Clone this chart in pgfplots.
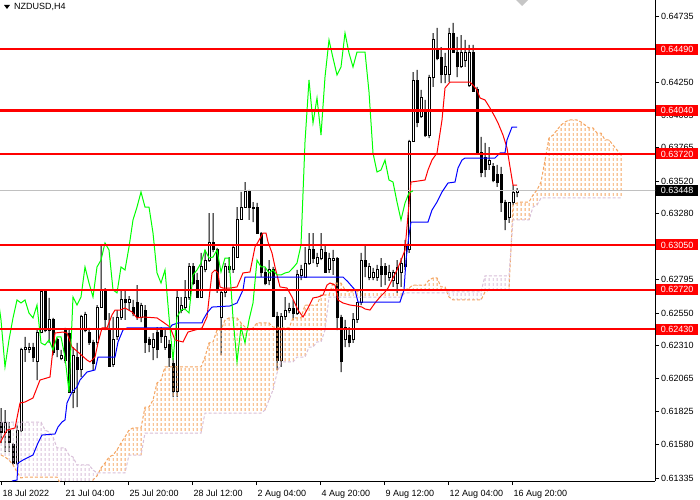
\documentclass[border=0pt]{standalone}
\usepackage{pgfplots}
\pgfplotsset{compat=1.18}
\usepackage{pgfplotstable}
\usetikzlibrary{patterns.meta}
\usepackage{fontspec}
\setmainfont{Liberation Sans}
\definecolor{sandy}{RGB}{244,164,96}
\definecolor{thist}{RGB}{216,191,216}
\definecolor{mtgreen}{RGB}{0,255,0}
\definecolor{bidgray}{RGB}{192,192,192}

\pgfplotstableread{
x O H L C
0 0.61747 0.61850 0.61593 0.61673
1 0.61673 0.61835 0.61526 0.61740
2 0.61688 0.61747 0.61526 0.61593
3 0.61578 0.61593 0.61431 0.61445
4 0.61445 0.61725 0.61431 0.61688
5 0.61688 0.62292 0.61673 0.62277
6 0.62277 0.62373 0.62189 0.62292
7 0.62277 0.62329 0.62255 0.62299
8 0.62299 0.62329 0.62189 0.62225
9 0.62189 0.62424 0.62056 0.62409
10 0.62409 0.62711 0.62402 0.62704
11 0.62704 0.62719 0.62409 0.62424
12 0.62424 0.62660 0.62329 0.62498
13 0.62498 0.62513 0.62240 0.62255
14 0.62351 0.62365 0.62225 0.62277
15 0.62218 0.62277 0.62203 0.62233
16 0.62424 0.62439 0.62181 0.62203
17 0.62402 0.62424 0.61961 0.61961
18 0.61961 0.62299 0.61850 0.62240
19 0.62225 0.62329 0.61857 0.62130
20 0.62130 0.62535 0.62078 0.62520
21 0.62424 0.62557 0.62409 0.62535
22 0.62409 0.62439 0.62314 0.62329
23 0.62329 0.62351 0.62130 0.62181
24 0.62329 0.62608 0.62314 0.62593
25 0.62593 0.63050 0.62593 0.62719
26 0.62719 0.62733 0.62424 0.62498
27 0.62424 0.62549 0.62152 0.62152
28 0.62167 0.62520 0.62152 0.62351
29 0.62373 0.62571 0.62351 0.62513
30 0.62513 0.62719 0.62498 0.62645
31 0.62645 0.62719 0.62498 0.62623
32 0.62630 0.62674 0.62571 0.62645
33 0.62593 0.62645 0.62527 0.62549
34 0.62623 0.62755 0.62498 0.62513
35 0.62513 0.62623 0.62483 0.62608
36 0.62571 0.62608 0.62255 0.62329
37 0.62351 0.62373 0.62262 0.62314
38 0.62292 0.62402 0.62203 0.62351
39 0.62409 0.62446 0.62218 0.62277
40 0.62424 0.62446 0.62329 0.62373
41 0.62299 0.62424 0.62277 0.62373
42 0.62314 0.62351 0.62152 0.62225
43 0.62181 0.62218 0.61931 0.61968
44 0.61968 0.62719 0.61931 0.62667
45 0.62571 0.62667 0.62549 0.62608
46 0.62593 0.62792 0.62571 0.62667
47 0.62667 0.62917 0.62645 0.62888
48 0.62888 0.62917 0.62755 0.62770
49 0.62792 0.62844 0.62660 0.62667
50 0.62667 0.62991 0.62660 0.62888
51 0.62866 0.63013 0.62851 0.62939
52 0.62939 0.63285 0.62925 0.63065
53 0.63065 0.63285 0.62998 0.63013
54 0.63013 0.63028 0.62697 0.62719
55 0.62513 0.62719 0.62240 0.62697
56 0.62697 0.62917 0.62667 0.62888
57 0.62888 0.62961 0.62844 0.62866
58 0.62866 0.63050 0.62844 0.63035
59 0.62961 0.63329 0.62961 0.63234
60 0.63234 0.63440 0.63234 0.63329
61 0.63329 0.63513 0.63329 0.63440
62 0.63440 0.63455 0.63234 0.63329
63 0.63322 0.63366 0.63219 0.63329
64 0.63329 0.63359 0.63138 0.63138
65 0.63138 0.63145 0.62814 0.62844
66 0.62844 0.62881 0.62755 0.62770
67 0.62785 0.62939 0.62755 0.62866
68 0.62866 0.62888 0.62520 0.62520
69 0.62520 0.62557 0.62130 0.62203
70 0.62203 0.62549 0.62152 0.62520
71 0.62520 0.62667 0.62498 0.62571
72 0.62571 0.62623 0.62549 0.62579
73 0.62579 0.62645 0.62498 0.62549
74 0.62549 0.62866 0.62535 0.62829
75 0.62822 0.62903 0.62792 0.62866
76 0.62814 0.63035 0.62814 0.62917
77 0.62917 0.63138 0.62903 0.63013
78 0.63013 0.63138 0.62917 0.62954
79 0.62917 0.62991 0.62888 0.62961
80 0.62954 0.63138 0.62939 0.63013
81 0.62998 0.63050 0.62844 0.62851
82 0.62866 0.62991 0.62844 0.62954
83 0.62939 0.63013 0.62829 0.62954
84 0.62954 0.62961 0.62424 0.62513
85 0.62513 0.62535 0.62115 0.62189
86 0.62351 0.62498 0.62299 0.62446
87 0.62387 0.62446 0.62299 0.62329
88 0.62351 0.62549 0.62329 0.62498
89 0.62498 0.62623 0.62476 0.62623
90 0.62623 0.62991 0.62608 0.62939
91 0.62939 0.63050 0.62814 0.62888
92 0.62814 0.62917 0.62792 0.62888
93 0.62814 0.62881 0.62792 0.62844
94 0.62807 0.62903 0.62785 0.62866
95 0.62888 0.62954 0.62741 0.62829
96 0.62888 0.62917 0.62755 0.62829
97 0.62807 0.62903 0.62785 0.62844
98 0.62792 0.62866 0.62741 0.62851
99 0.62770 0.62939 0.62697 0.62881
100 0.62844 0.62954 0.62741 0.62917
101 0.62888 0.63087 0.62866 0.63050
102 0.63013 0.63823 0.62991 0.63808
103 0.63808 0.64323 0.63808 0.64264
104 0.64264 0.64338 0.63918 0.63948
105 0.63992 0.64191 0.63985 0.64132
106 0.64043 0.64117 0.63845 0.63859
107 0.63859 0.64301 0.63837 0.64286
108 0.64279 0.64610 0.64213 0.64559
109 0.64485 0.64647 0.64411 0.64426
110 0.64433 0.64507 0.64242 0.64301
111 0.64301 0.64463 0.64242 0.64360
112 0.64301 0.64647 0.64249 0.64610
113 0.64610 0.64684 0.64463 0.64463
114 0.64463 0.64581 0.64286 0.64360
115 0.64360 0.64595 0.64353 0.64470
116 0.64411 0.64559 0.64360 0.64470
117 0.64227 0.64522 0.64213 0.64470
118 0.64470 0.64522 0.64176 0.64176
119 0.64191 0.64213 0.63727 0.63727
120 0.63727 0.63845 0.63550 0.63587
121 0.63697 0.63801 0.63550 0.63602
122 0.63639 0.63771 0.63602 0.63675
123 0.63624 0.63653 0.63513 0.63528
124 0.63565 0.63639 0.63477 0.63513
125 0.63565 0.63624 0.63293 0.63366
126 0.63366 0.63381 0.63160 0.63234
127 0.63249 0.63366 0.63212 0.63359
128 0.63359 0.63491 0.63344 0.63433
129 0.63433 0.63469 0.63403 0.63448
}\candles

\pgfplotstableread{
x y
-0.25 0.61593
1.5 0.61688
3.5 0.61703
4.75 0.61887
6 0.61894
8 0.61924
9.75 0.62056
12.25 0.62078
12.75 0.62218
13.5 0.62402
15.5 0.62409
16.5 0.62402
17.75 0.62299
19.25 0.62262
21.5 0.62203
22.25 0.62189
23.5 0.62225
24.25 0.62329
25.25 0.62439
26.5 0.62439
27.75 0.62535
28.5 0.62571
29.75 0.62571
31 0.62586
32.75 0.62557
34 0.62513
35.5 0.62520
39 0.62513
40.5 0.62483
42.25 0.62446
43.5 0.62351
45.5 0.62336
46.75 0.62409
48.5 0.62424
50.25 0.62439
51.5 0.62520
52.25 0.62719
52.75 0.62844
53.5 0.62866
54.25 0.62844
54.75 0.62741
55.5 0.62733
57.25 0.62733
59 0.62741
60.5 0.62844
62.25 0.62851
63.5 0.63035
64.25 0.63072
65.5 0.63138
66.25 0.63138
66.75 0.63072
67.75 0.62991
68.5 0.62888
69.75 0.62741
71.5 0.62733
72.75 0.62667
74.25 0.62571
75.5 0.62520
76.75 0.62586
78 0.62660
79.25 0.62667
80.5 0.62682
81.5 0.62755
82.25 0.62770
83.5 0.62755
84.25 0.62645
85.5 0.62623
87.25 0.62608
89 0.62601
90.25 0.62593
91 0.62579
92.25 0.62571
93.5 0.62623
94.75 0.62667
96 0.62704
96.75 0.62733
98 0.62807
99 0.62866
99.75 0.62917
101 0.63013
101.75 0.63271
102.5 0.63513
106 0.63528
106.75 0.63602
107.75 0.63675
109 0.63727
110.25 0.63970
111 0.64205
112.25 0.64249
117.25 0.64249
118 0.64227
119 0.64191
119.75 0.64132
121 0.64117
122.25 0.64058
123.5 0.63992
124.25 0.63948
125.5 0.63859
126.5 0.63764
127.25 0.63624
128 0.63491
129 0.63491
}\tenkan

\pgfplotstableread{
x y
2.75 0.61313
4 0.61320
4.25 0.61445
5.5 0.61467
8 0.61504
9.25 0.61593
10.25 0.61651
13.5 0.61659
14.25 0.61710
15.25 0.61747
16 0.61762
16.5 0.61887
17.75 0.61968
19 0.62005
19.75 0.62056
21.5 0.62115
23.5 0.62130
24.25 0.62225
28.5 0.62225
29.25 0.62336
30.5 0.62424
31.5 0.62439
42.25 0.62439
42.75 0.62461
44.25 0.62476
50.25 0.62476
50.5 0.62498
51.5 0.62549
52.75 0.62593
57.25 0.62601
59 0.62623
60.5 0.62719
61 0.62814
85.5 0.62814
86.75 0.62778
88.5 0.62719
89.25 0.62630
99.75 0.62630
100.75 0.62719
101.25 0.62939
102 0.63123
102.5 0.63219
106.75 0.63219
107.75 0.63307
109 0.63366
110.25 0.63440
111.75 0.63506
113.5 0.63513
114.25 0.63617
115.25 0.63675
116 0.63690
123.5 0.63690
124.75 0.63727
126 0.63727
126.5 0.63823
127.75 0.63918
129 0.63918
}\kijun

\pgfplotstableread{
x A B
0 0.61504 0.61747
1 0.61489 0.61747
2 0.61467 0.61747
3 0.61431 0.61747
4 0.61379 0.61747
5 0.61335 0.61747
6 0.61342 0.61747
7 0.61342 0.61747
8 0.61342 0.61747
9 0.61342 0.61747
10 0.61342 0.61747
11 0.61342 0.61688
12 0.61342 0.61673
13 0.61342 0.61637
14 0.61342 0.61556
15 0.61283 0.61556
16 0.61283 0.61556
17 0.61283 0.61504
18 0.61283 0.61489
19 0.61283 0.61431
20 0.61283 0.61431
21 0.61283 0.61431
22 0.61283 0.61431
23 0.61320 0.61394
24 0.61350 0.61372
25 0.61409 0.61372
26 0.61445 0.61372
27 0.61489 0.61372
28 0.61504 0.61372
29 0.61541 0.61372
30 0.61593 0.61372
31 0.61637 0.61372
32 0.61688 0.61504
33 0.61703 0.61504
34 0.61703 0.61504
35 0.61703 0.61504
36 0.61857 0.61666
37 0.61857 0.61666
38 0.61909 0.61666
39 0.62034 0.61666
40 0.62056 0.61666
41 0.62152 0.61666
42 0.62152 0.61666
43 0.62152 0.61666
44 0.62152 0.61666
45 0.62152 0.61666
46 0.62152 0.61666
47 0.62152 0.61666
48 0.62152 0.61666
49 0.62152 0.61666
50 0.62152 0.61666
51 0.62225 0.61813
52 0.62329 0.61813
53 0.62336 0.61813
54 0.62424 0.61813
55 0.62424 0.61813
56 0.62498 0.61813
57 0.62513 0.61813
58 0.62513 0.61813
59 0.62513 0.61813
60 0.62476 0.61813
61 0.62446 0.61813
62 0.62424 0.61813
63 0.62439 0.61813
64 0.62476 0.61813
65 0.62476 0.61813
66 0.62476 0.61835
67 0.62476 0.61909
68 0.62446 0.61983
69 0.62446 0.62107
70 0.62439 0.62189
71 0.62439 0.62189
72 0.62439 0.62189
73 0.62513 0.62189
74 0.62513 0.62225
75 0.62513 0.62225
76 0.62608 0.62225
77 0.62608 0.62299
78 0.62608 0.62299
79 0.62608 0.62336
80 0.62682 0.62336
81 0.62682 0.62424
82 0.62682 0.62667
83 0.62770 0.62667
84 0.62770 0.62667
85 0.62770 0.62667
86 0.62719 0.62667
87 0.62704 0.62667
88 0.62704 0.62667
89 0.62704 0.62667
90 0.62719 0.62667
91 0.62719 0.62667
92 0.62719 0.62667
93 0.62719 0.62667
94 0.62719 0.62667
95 0.62719 0.62667
96 0.62719 0.62667
97 0.62719 0.62667
98 0.62719 0.62667
99 0.62719 0.62667
100 0.62719 0.62667
101 0.62719 0.62697
102 0.62733 0.62697
103 0.62755 0.62697
104 0.62755 0.62697
105 0.62755 0.62697
106 0.62755 0.62697
107 0.62792 0.62697
108 0.62807 0.62697
109 0.62807 0.62697
110 0.62741 0.62697
111 0.62741 0.62697
112 0.62667 0.62704
113 0.62645 0.62704
114 0.62645 0.62704
115 0.62645 0.62704
116 0.62645 0.62704
117 0.62645 0.62704
118 0.62645 0.62704
119 0.62645 0.62704
120 0.62645 0.62704
121 0.62704 0.62822
122 0.62719 0.62822
123 0.62719 0.62822
124 0.62719 0.62822
125 0.62719 0.62822
126 0.62719 0.62822
127 0.62719 0.62822
128 0.63344 0.63234
129 0.63359 0.63234
130 0.63366 0.63234
131 0.63366 0.63234
132 0.63366 0.63234
133 0.63418 0.63329
134 0.63455 0.63344
135 0.63513 0.63396
136 0.63675 0.63396
137 0.63837 0.63396
138 0.63859 0.63396
139 0.63896 0.63396
140 0.63933 0.63396
141 0.63955 0.63396
142 0.63970 0.63396
143 0.63970 0.63396
144 0.63970 0.63396
145 0.63955 0.63396
146 0.63933 0.63396
147 0.63911 0.63396
148 0.63911 0.63396
149 0.63874 0.63396
150 0.63874 0.63396
151 0.63823 0.63396
152 0.63823 0.63396
153 0.63786 0.63396
154 0.63749 0.63396
155 0.63712 0.63396
}\cloud

\pgfplotsset{frame/.style={scale only axis, width=655bp, height=481bp,
  xmin=-0.25, xmax=163.5, ymin=0.613128, ymax=0.64853}}
\tikzset{lbl/.style={anchor=west, inner xsep=5bp, inner ysep=0pt, minimum height=11bp,
  text=white, font=\fontsize{9bp}{10bp}\selectfont}}

\begin{document}
\begin{tikzpicture}
% layer 1: bid line and candle wicks
\begin{axis}[frame, hide axis, ybar stacked, bar width=1bp]
\addplot[draw=none, fill=none, forget plot] table[x=x, y=L] {\candles};
\addplot[draw=none, fill=black, forget plot] table[x=x, y expr={\thisrow{H}-\thisrow{L}}] {\candles};
\end{axis}
% layer 2: candle bodies
\begin{axis}[frame, hide axis, ybar stacked, bar width=2bp]
\addplot[draw=none, fill=none, forget plot] table[x=x, y expr={min(\thisrow{O},\thisrow{C})}] {\candles};
\addplot[draw=black, line width=1bp, fill=white, forget plot] table[x=x, y expr={max(\thisrow{C}-\thisrow{O},0)}] {\candles};
\addplot[draw=black, line width=1bp, fill=black, forget plot] table[x=x, y expr={max(\thisrow{O}-\thisrow{C},0)}] {\candles};
\end{axis}
% layer 3: cloud hatch
\begin{axis}[frame, hide axis, ybar stacked, bar width=1bp]
\addplot[draw=none, fill=none, forget plot] table[x=x, y expr={min(\thisrow{A},\thisrow{B})}] {\cloud};
\addplot[draw=none, pattern={Lines[angle=0,distance=5bp,line width=3bp]}, pattern color=sandy, forget plot]
  table[x=x, y expr={max(\thisrow{A}-\thisrow{B},0)}] {\cloud};
\addplot[draw=none, pattern={Lines[angle=0,distance=5bp,line width=3bp]}, pattern color=thist, forget plot]
  table[x=x, y expr={max(\thisrow{B}-\thisrow{A},0)}] {\cloud};
\end{axis}
% layer 4: lines, levels, axes
\begin{axis}[frame,
  axis x line*=bottom, axis y line*=right,
  axis line style={black, line width=1bp, -},
  xtick={0,15.75,31.75,47.75,63.75,79.75,95.75,111.75,127.75},
  xticklabels={18 Jul 2022,21 Jul 04:00,25 Jul 20:00,28 Jul 12:00,2 Aug 04:00,4 Aug 20:00,9 Aug 12:00,12 Aug 04:00,16 Aug 20:00},
  ytick={0.64735,0.64250,0.64005,0.63765,0.63520,0.63280,0.62795,0.62550,0.62310,0.62065,0.61825,0.61580,0.61335},
  yticklabels={0.64735,0.64250,0.64005,0.63765,0.63520,0.63280,0.62795,0.62550,0.62310,0.62065,0.61825,0.61580,0.61335},
  tick align=outside, major tick length=4bp,
  tick style={black, line width=0.8bp},
  every tick label/.append style={font=\fontsize{9bp}{10bp}\selectfont},
  xticklabel style={anchor=north west, inner sep=0pt, xshift=1.5bp, yshift=-5bp},
  yticklabel style={anchor=west, inner sep=0pt, xshift=2bp},
  scaled y ticks=false,
]
\addplot[bidgray, line width=1bp, forget plot] coordinates {(-1,0.63448) (170,0.63448)};
\addplot[sandy, line width=1bp, dash pattern=on 3bp off 2bp, forget plot] table[x=x, y=A] {\cloud};
\addplot[thist, line width=1bp, dash pattern=on 3bp off 2bp, forget plot] table[x=x, y=B] {\cloud};
\addplot[red, line width=1bp, forget plot] table[x=x, y=y] {\tenkan};
\addplot[blue, line width=1bp, forget plot] table[x=x, y=y] {\kijun};
\addplot[mtgreen, line width=1bp, forget plot] table[x expr={\thisrow{x}-26}, y=C] {\candles};
\addplot[red, line width=2.2bp, forget plot] coordinates {(-1,0.64490) (170,0.64490)};
\addplot[red, line width=2.2bp, forget plot] coordinates {(-1,0.64040) (170,0.64040)};
\addplot[red, line width=2.2bp, forget plot] coordinates {(-1,0.63720) (170,0.63720)};
\addplot[red, line width=2.2bp, forget plot] coordinates {(-1,0.63050) (170,0.63050)};
\addplot[red, line width=2.2bp, forget plot] coordinates {(-1,0.62720) (170,0.62720)};
\addplot[red, line width=2.2bp, forget plot] coordinates {(-1,0.62430) (170,0.62430)};
\coordinate (l1) at (axis cs:163.5,0.64490);
\coordinate (l2) at (axis cs:163.5,0.64040);
\coordinate (l3) at (axis cs:163.5,0.63720);
\coordinate (l4) at (axis cs:163.5,0.63050);
\coordinate (l5) at (axis cs:163.5,0.62720);
\coordinate (l6) at (axis cs:163.5,0.62430);
\coordinate (lb) at (axis cs:163.5,0.63448);
\end{axis}
\node[lbl, fill=red] at ([xshift=0.6bp]l1) {0.64490};
\node[lbl, fill=red] at ([xshift=0.6bp]l2) {0.64040};
\node[lbl, fill=red] at ([xshift=0.6bp]l3) {0.63720};
\node[lbl, fill=red] at ([xshift=0.6bp]l4) {0.63050};
\node[lbl, fill=red] at ([xshift=0.6bp]l5) {0.62720};
\node[lbl, fill=red] at ([xshift=0.6bp]l6) {0.62430};
\node[lbl, fill=black] at ([xshift=0.6bp]lb) {0.63448};
% title
\fill[black] (4bp,476bp) -- (10bp,476bp) -- (7bp,472bp) -- cycle;
\node[anchor=west, inner sep=0pt, font=\fontsize{9bp}{10bp}\selectfont] at (14bp,474bp) {NZDUSD,H4};
% chart shift marker
\fill[gray!45] (516bp,481bp) -- (528bp,481bp) -- (522bp,475bp) -- cycle;
\pgfresetboundingbox
\path[use as bounding box] (0bp,-19bp) rectangle (700bp,481bp);
\end{tikzpicture}
\end{document}
